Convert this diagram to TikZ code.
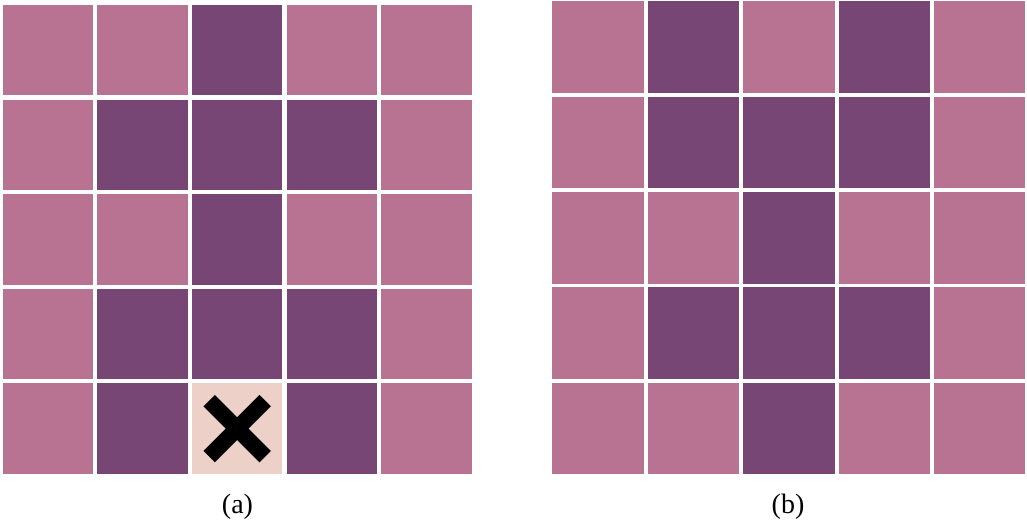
\documentclass[tikz,border=0pt]{standalone}
\usepackage{fontspec}
\setmainfont{Liberation Serif}
\usepackage{xcolor}

\definecolor{cell0}{RGB}{184,115,147}
\definecolor{cell1}{RGB}{119,70,116}
\definecolor{cell2}{RGB}{237,208,200}

\begin{document}
\begin{tikzpicture}[x=0.5pt, y=-0.5pt, font=\fontsize{14}{16}\selectfont]
    \useasboundingbox (0,0) rectangle (1027,522);

    % Grid (a): 0 = light, 1 = dark, 2 = blocked
    \foreach \r/\row in {0/{0,0,1,0,0}, 1/{0,1,1,1,0}, 2/{0,0,1,0,0}, 3/{0,1,1,1,0}, 4/{0,1,2,1,0}}
      \foreach \v [count=\c from 0] in \row
        \fill[cell\v] (2.7+\c*94.6, 5+\r*94.6) rectangle ++(90.5,90.5);

    % Blocked cell
    \coordinate (xmark) at (2.7+2*94.6+45.25, 5+4*94.6+45.25);
    \draw[line width=8pt] ([shift={(-28,-28)}]xmark) -- ([shift={(28,28)}]xmark);
    \draw[line width=8pt] ([shift={(-28,28)}]xmark) -- ([shift={(28,-28)}]xmark);

    % Grid (b)
    \foreach \r/\row in {0/{0,1,0,1,0}, 1/{0,1,1,1,0}, 2/{0,0,1,0,0}, 3/{0,1,1,1,0}, 4/{0,0,1,0,0}}
      \foreach \v [count=\c from 0] in \row
        \fill[cell\v] (552.3+\c*95.4, 1.3+\r*95.4) rectangle ++(91.5,91.5);

    % Captions
    \node[anchor=base] (capa) at (237.5,514) {(a)};
    \node[anchor=base] (capb) at (788,514) {(b)};
\end{tikzpicture}
\end{document}
